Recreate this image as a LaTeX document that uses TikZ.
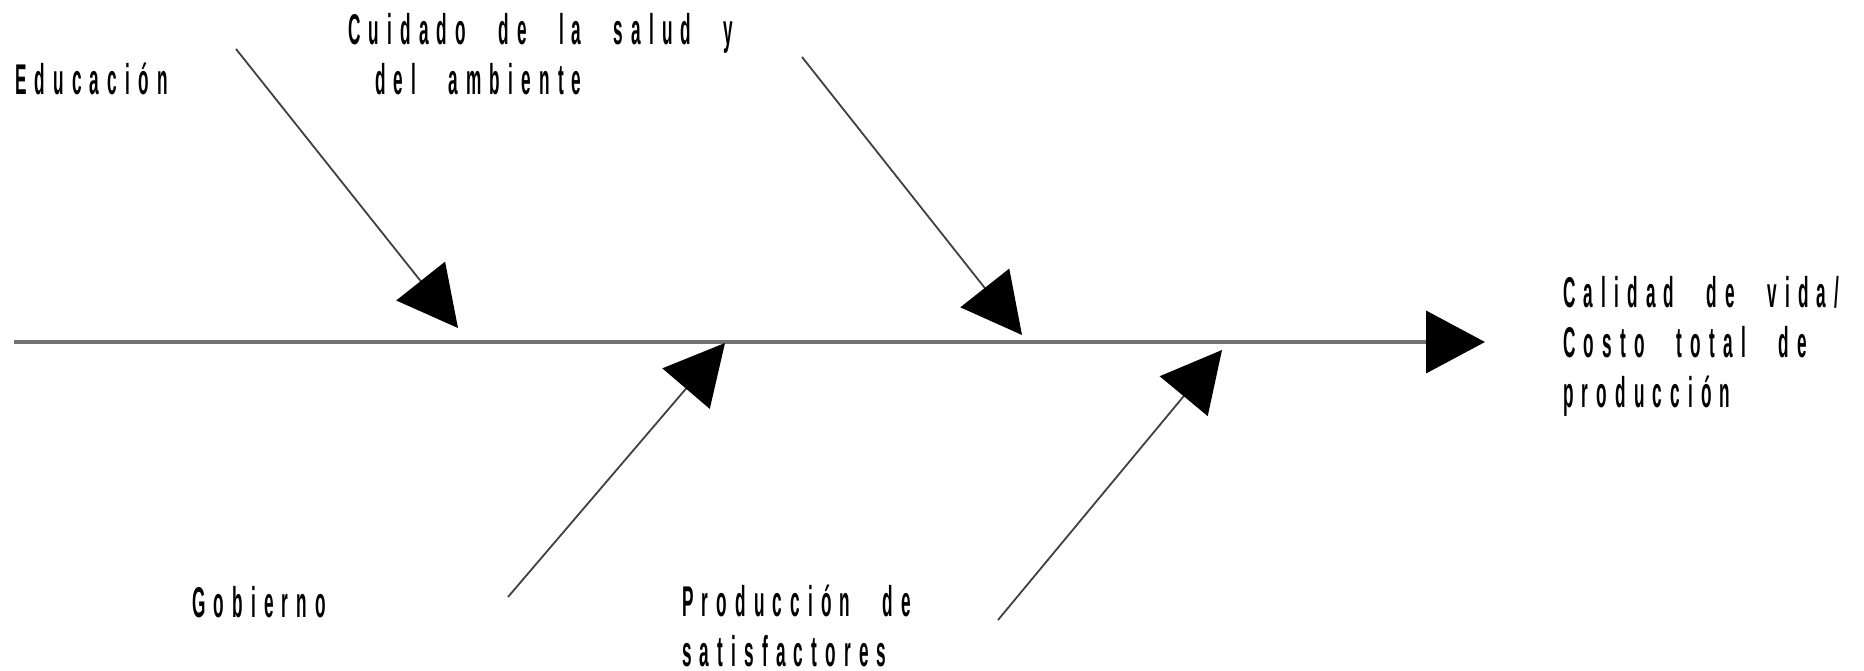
\documentclass[tikz,border=0pt]{standalone}
\usepackage{fontspec}
\setmainfont{Liberation Sans}[BoldFont=* Bold]
\newfontfamily\lblfont{Liberation Sans Bold}[FakeStretch=0.40,LetterSpace=19,WordSpace=2.5]
\usetikzlibrary{arrows.meta}
\begin{document}
\begin{tikzpicture}[x=1pt,y=-1pt,
  lbl/.style={inner sep=0pt,anchor=north west,align=left,
    font=\lblfont\fontsize{43}{50}\selectfont},
  spine/.style={line width=4pt,draw=black!55,
    -{Triangle[length=59pt,width=62pt,color=black]}},
  bone/.style={line width=1.8pt,draw=black!75,
    -{Triangle[length=60pt,width=62pt,color=black]}}]
\useasboundingbox (0,0) rectangle (1864,671);
\coordinate (m0) at (14,342);
\coordinate (m1) at (1485,342);
\coordinate (s1) at (236,49);   \coordinate (t1) at (458,328);
\coordinate (s2) at (802,57);   \coordinate (t2) at (1022,335);
\coordinate (s3) at (508,597);  \coordinate (t3) at (725,343);
\coordinate (s4) at (998,620);  \coordinate (t4) at (1222,350);
\draw[spine] (m0) -- (m1);
\draw[bone] (s1) -- (t1);
\draw[bone] (s2) -- (t2);
\draw[bone] (s3) -- (t3);
\draw[bone] (s4) -- (t4);
\node[lbl] (edu) at (15,63) {Educación};
\node[lbl] (cui) at (348,13) {Cuidado de la salud y\\\hspace*{27pt}del ambiente};
\node[lbl] (cal) at (1563,276) {Calidad de vida/\\Costo total de\\producción};
\node[lbl] (gob) at (192,586) {Gobierno};
\node[lbl,text depth=0pt] (pro) at (682,585) {Producción de\\satisfactores};
\end{tikzpicture}
\end{document}
